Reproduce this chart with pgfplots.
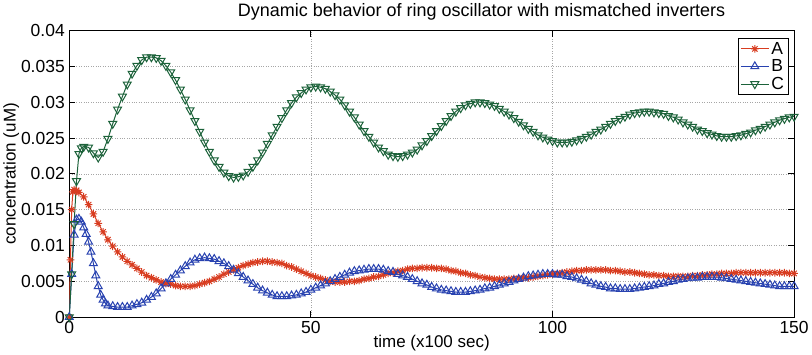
\documentclass[border=0pt]{standalone}
\usepackage{fontspec}
\setmainfont{Liberation Sans}
\usepackage{pgfplots}
\pgfplotsset{compat=1.18}
\definecolor{cA}{RGB}{216,60,32}
\definecolor{cB}{RGB}{40,66,176}
\definecolor{cC}{RGB}{28,98,58}
\pgfdeclareplotmark{mstar}{%
  \pgfpathmoveto{\pgfqpoint{-\pgfplotmarksize}{0pt}}\pgfpathlineto{\pgfqpoint{\pgfplotmarksize}{0pt}}%
  \pgfpathmoveto{\pgfqpoint{0pt}{-\pgfplotmarksize}}\pgfpathlineto{\pgfqpoint{0pt}{\pgfplotmarksize}}%
  \pgfpathmoveto{\pgfqpoint{-0.707\pgfplotmarksize}{-0.707\pgfplotmarksize}}\pgfpathlineto{\pgfqpoint{0.707\pgfplotmarksize}{0.707\pgfplotmarksize}}%
  \pgfpathmoveto{\pgfqpoint{-0.707\pgfplotmarksize}{0.707\pgfplotmarksize}}\pgfpathlineto{\pgfqpoint{0.707\pgfplotmarksize}{-0.707\pgfplotmarksize}}%
  \pgfusepathqstroke}
\begin{document}
\begin{tikzpicture}
\begin{axis}[
  scale only axis, width=726pt, height=287pt,
  xmin=0, xmax=150, ymin=0, ymax=0.04,
  scaled y ticks=false, scaled x ticks=false,
  xtick={0,50,100,150}, xticklabels={0,50,100,150},
  ytick={0,0.005,0.01,0.015,0.02,0.025,0.03,0.035,0.04},
  yticklabels={0,0.005,0.01,0.015,0.02,0.025,0.03,0.035,0.04},
  tick align=inside, major tick length=6pt,
  grid=major, major grid style={dotted, gray!70, line width=0.7pt},
  axis line style={black, line width=0.9pt},
  tick style={black, line width=0.8pt},
  tick label style={font=\fontsize{17.5}{19}\selectfont},
  xticklabel style={yshift=-1pt},
  yticklabel style={xshift=-1pt},
  label style={font=\fontsize{17}{19}\selectfont},
  title style={font=\fontsize{18}{20}\selectfont, yshift=1pt, xshift=50pt},
  title={Dynamic behavior of ring oscillator with mismatched inverters},
  xlabel={time (x100 sec)}, ylabel={concentration (uM)},
  xlabel style={yshift=6pt}, ylabel style={yshift=-5pt},
  legend style={at={(rel axis cs:0.992,0.975)}, anchor=north east, draw=black, line width=0.8pt,
    font=\fontsize{17.5}{18}\selectfont, row sep=0pt, inner sep=2pt},
  legend cell align=left,
  legend image code/.code={\draw[mark repeat=2,mark phase=2] plot coordinates {(0pt,0pt) (14pt,0pt) (28pt,0pt)};},
  every axis plot/.append style={line width=1pt},
]
\addplot[cA, mark=mstar, mark size=3.8pt] coordinates {
(0,0) (0.25,0.008) (0.5,0.015) (0.75,0.0175) (1,0.0178) (1.5,0.0177) (2,0.0174) (3,0.0168) (4,0.0157) (5,0.0144) (6,0.0131) (7,0.0119) (8,0.0108) (9,0.0099) (10,0.0091) (11,0.0084) (12,0.0078) (13,0.0073) (14,0.0068) (15,0.0063) (16,0.0058) (17,0.0055) (18,0.0052) (19,0.0049) (20,0.0047) (21,0.0046) (22,0.0044) (23,0.0043) (24,0.0043) (25,0.0043) (26,0.0044) (27,0.0046) (28,0.0048) (29,0.0050) (30,0.0053) (31,0.0056) (32,0.0060) (33,0.0063) (34,0.0066) (35,0.0069) (36,0.0072) (37,0.0074) (38,0.0076) (39,0.0077) (40,0.0078) (41,0.0078) (42,0.0077) (43,0.0076) (44,0.0075) (45,0.0072) (46,0.0070) (47,0.0067) (48,0.0064) (49,0.0061) (50,0.0058) (51,0.0056) (52,0.0054) (53,0.0052) (54,0.0050) (55,0.0049) (56,0.0049) (57,0.0049) (58,0.0050) (59,0.0050) (60,0.0051) (61,0.0053) (62,0.0054) (63,0.0056) (64,0.0057) (65,0.0059) (66,0.0061) (67,0.0062) (68,0.0064) (69,0.0065) (70,0.0067) (71,0.0068) (72,0.0068) (73,0.0069) (74,0.0069) (75,0.0069) (76,0.0068) (77,0.0068) (78,0.0067) (79,0.0065) (80,0.0064) (81,0.0062) (82,0.0061) (83,0.0059) (84,0.0058) (85,0.0056) (86,0.0055) (87,0.0054) (88,0.0053) (89,0.0053) (90,0.0053) (91,0.0053) (92,0.0054) (93,0.0054) (94,0.0055) (95,0.0055) (96,0.0056) (97,0.0057) (98,0.0058) (99,0.0059) (100,0.0060) (101,0.0061) (102,0.0062) (103,0.0063) (104,0.0064) (105,0.0065) (106,0.0065) (107,0.0066) (108,0.0066) (109,0.0066) (110,0.0066) (111,0.0066) (112,0.0065) (113,0.0065) (114,0.0064) (115,0.0063) (116,0.0063) (117,0.0062) (118,0.0061) (119,0.0060) (120,0.0059) (121,0.0059) (122,0.0058) (123,0.0058) (124,0.0057) (125,0.0057) (126,0.0057) (127,0.0057) (128,0.0057) (129,0.0058) (130,0.0058) (131,0.0059) (132,0.0059) (133,0.0060) (134,0.0060) (135,0.0061) (136,0.0061) (137,0.0061) (138,0.0062) (139,0.0062) (140,0.0062) (141,0.0062) (142,0.0062) (143,0.0062) (144,0.0062) (145,0.0062) (146,0.0062) (147,0.0062) (148,0.0062) (149,0.0061) (150,0.0061)
};
\addlegendentry{A}
\addplot[cB, mark=triangle, mark size=4.6pt] coordinates {
(0,0) (0.5,0.006) (1,0.0115) (1.5,0.0136) (2,0.0137) (2.5,0.0133) (3,0.0125) (3.5,0.0116) (4,0.0105) (4.5,0.0091) (5,0.0075) (5.5,0.0058) (6,0.0043) (6.5,0.0031) (7,0.0024) (7.5,0.0019) (8,0.0016) (9,0.0015) (10,0.0014) (11,0.0014) (12,0.0014) (13,0.0016) (14,0.0018) (15,0.0020) (16,0.0024) (17,0.0028) (18,0.0033) (19,0.0040) (20,0.0047) (21,0.0053) (22,0.0059) (23,0.0065) (24,0.0071) (25,0.0076) (26,0.0080) (27,0.0082) (28,0.0083) (29,0.0082) (30,0.0081) (31,0.0078) (32,0.0075) (33,0.0071) (34,0.0066) (35,0.0061) (36,0.0056) (37,0.0051) (38,0.0046) (39,0.0041) (40,0.0037) (41,0.0034) (42,0.0031) (43,0.0029) (44,0.0029) (45,0.0029) (46,0.0030) (47,0.0031) (48,0.0033) (49,0.0035) (50,0.0038) (51,0.0041) (52,0.0044) (53,0.0047) (54,0.0050) (55,0.0053) (56,0.0056) (57,0.0059) (58,0.0062) (59,0.0064) (60,0.0065) (61,0.0066) (62,0.0067) (63,0.0067) (64,0.0067) (65,0.0066) (66,0.0064) (67,0.0063) (68,0.0060) (69,0.0058) (70,0.0056) (71,0.0053) (72,0.0050) (73,0.0047) (74,0.0045) (75,0.0042) (76,0.0040) (77,0.0038) (78,0.0037) (79,0.0036) (80,0.0035) (81,0.0035) (82,0.0035) (83,0.0036) (84,0.0037) (85,0.0038) (86,0.0040) (87,0.0041) (88,0.0043) (89,0.0045) (90,0.0047) (91,0.0049) (92,0.0051) (93,0.0053) (94,0.0055) (95,0.0057) (96,0.0058) (97,0.0059) (98,0.0060) (99,0.0060) (100,0.0060) (101,0.0059) (102,0.0059) (103,0.0057) (104,0.0056) (105,0.0054) (106,0.0052) (107,0.0050) (108,0.0047) (109,0.0045) (110,0.0043) (111,0.0042) (112,0.0040) (113,0.0040) (114,0.0039) (115,0.0039) (116,0.0039) (117,0.0040) (118,0.0041) (119,0.0042) (120,0.0043) (121,0.0044) (122,0.0046) (123,0.0047) (124,0.0049) (125,0.0050) (126,0.0052) (127,0.0053) (128,0.0054) (129,0.0055) (130,0.0055) (131,0.0056) (132,0.0056) (133,0.0056) (134,0.0056) (135,0.0055) (136,0.0054) (137,0.0053) (138,0.0052) (139,0.0051) (140,0.0050) (141,0.0049) (142,0.0048) (143,0.0047) (144,0.0046) (145,0.0045) (146,0.0044) (147,0.0043) (148,0.0043) (149,0.0043) (150,0.0043)
};
\addlegendentry{B}
\addplot[cC, mark=triangle, mark size=4.6pt, mark options={rotate=180}] coordinates {
(0,0) (0.5,0.006) (1,0.013) (1.5,0.019) (2,0.0228) (2.5,0.0236) (3,0.0238) (4,0.0237) (5,0.0229) (6,0.0223) (7,0.0231) (8,0.0249) (9,0.0270) (10,0.0290) (11,0.0308) (12,0.0325) (13,0.0340) (14,0.0351) (15,0.0359) (16,0.0363) (17,0.0363) (18,0.0362) (19,0.0358) (20,0.0351) (21,0.0342) (22,0.0331) (23,0.0318) (24,0.0304) (25,0.0289) (26,0.0274) (27,0.0259) (28,0.0244) (29,0.0231) (30,0.0219) (31,0.0210) (32,0.0202) (33,0.0197) (34,0.0195) (35,0.0196) (36,0.0198) (37,0.0203) (38,0.0210) (39,0.0219) (40,0.0230) (41,0.0242) (42,0.0254) (43,0.0266) (44,0.0278) (45,0.0289) (46,0.0299) (47,0.0307) (48,0.0313) (49,0.0318) (50,0.0321) (51,0.0322) (52,0.0321) (53,0.0319) (54,0.0315) (55,0.0310) (56,0.0304) (57,0.0296) (58,0.0287) (59,0.0279) (60,0.0269) (61,0.0260) (62,0.0252) (63,0.0244) (64,0.0237) (65,0.0232) (66,0.0227) (67,0.0225) (68,0.0224) (69,0.0225) (70,0.0227) (71,0.0230) (72,0.0234) (73,0.0240) (74,0.0246) (75,0.0253) (76,0.0260) (77,0.0267) (78,0.0274) (79,0.0281) (80,0.0287) (81,0.0292) (82,0.0296) (83,0.0298) (84,0.0300) (85,0.0300) (86,0.0299) (87,0.0297) (88,0.0295) (89,0.0291) (90,0.0287) (91,0.0283) (92,0.0278) (93,0.0273) (94,0.0268) (95,0.0263) (96,0.0259) (97,0.0254) (98,0.0251) (99,0.0248) (100,0.0246) (101,0.0244) (102,0.0244) (103,0.0244) (104,0.0245) (105,0.0247) (106,0.0249) (107,0.0252) (108,0.0255) (109,0.0259) (110,0.0262) (111,0.0266) (112,0.0270) (113,0.0274) (114,0.0277) (115,0.0280) (116,0.0283) (117,0.0285) (118,0.0286) (119,0.0287) (120,0.0287) (121,0.0286) (122,0.0285) (123,0.0284) (124,0.0281) (125,0.0279) (126,0.0276) (127,0.0272) (128,0.0269) (129,0.0266) (130,0.0262) (131,0.0260) (132,0.0257) (133,0.0255) (134,0.0253) (135,0.0252) (136,0.0252) (137,0.0252) (138,0.0253) (139,0.0254) (140,0.0256) (141,0.0258) (142,0.0261) (143,0.0263) (144,0.0266) (145,0.0269) (146,0.0272) (147,0.0275) (148,0.0277) (149,0.0279) (150,0.0280)
};
\addlegendentry{C}
\end{axis}
\end{tikzpicture}
\end{document}
